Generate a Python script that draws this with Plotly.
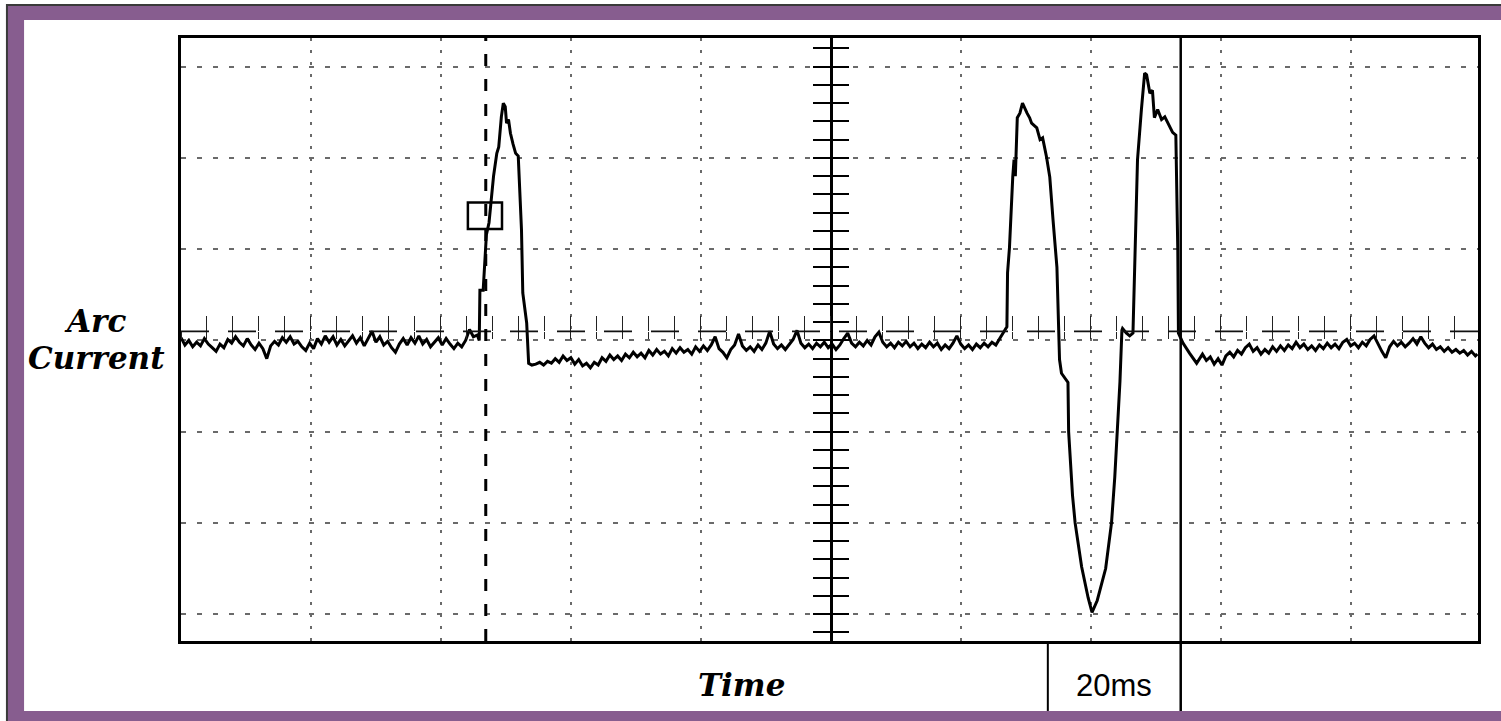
import plotly.graph_objects as go

# ---- trace readings: time in ms (1 division = 20 ms), current in divisions ----
seg_a_t = [0.0, 0.6, 1.2, 1.8, 2.4, 3.0, 3.6, 4.2, 4.8, 5.4,
           6.0, 6.6, 7.2, 7.8, 8.4, 9.0, 9.6, 10.2, 10.8, 11.4,
           12.0, 12.6, 13.2, 13.8, 14.4, 15.0, 15.6, 16.2, 16.8, 17.4,
           18.0, 18.6, 19.2, 19.8, 20.4, 21.0, 21.6, 22.2, 22.8, 23.4,
           24.0, 24.6, 25.2, 25.8, 26.4, 27.0, 27.6, 28.2, 28.8, 29.4,
           30.0, 30.6, 31.2, 31.8, 32.4, 33.0, 33.6, 34.2, 34.8, 35.4,
           36.0, 36.6, 37.2, 37.8, 38.4, 39.0, 39.6, 40.2, 40.8, 41.4,
           42.0, 42.6, 43.2, 43.8, 44.4, 45.0, 45.6]
seg_a_v = [0.03, -0.05, 0.00, -0.07, -0.02, -0.06, 0.02, -0.04, -0.08, -0.12,
           -0.04, -0.08, 0.01, -0.03, 0.04, -0.02, -0.06, 0.02, -0.05, -0.10,
           -0.03, -0.09, -0.20, -0.06, -0.01, -0.05, 0.03, -0.02, 0.04, -0.04,
           -0.01, -0.07, -0.11, -0.03, -0.09, 0.02, -0.04, 0.05, -0.02, 0.04,
           -0.05, 0.01, -0.06, -0.01, 0.05, -0.03, 0.03, -0.06, 0.02, 0.10,
           -0.02, 0.04, -0.05, -0.01, -0.08, -0.13, -0.04, 0.02, -0.05, 0.03,
           -0.03, 0.05, -0.04, 0.01, -0.07, -0.02, 0.03, -0.05, 0.02, -0.04,
           -0.09, -0.03, -0.07, 0.00, 0.12, 0.04, 0.06]

pulse1_t = [45.9, 46.0, 46.5, 47.0, 47.4, 47.7, 48.1, 48.6, 48.9, 49.3,
            49.6, 49.9, 50.1, 50.4, 50.7, 51.1, 51.5, 51.9, 52.4, 52.6,
            53.2, 53.5, 54.0]
pulse1_v = [0.00, 0.55, 0.55, 1.16, 1.29, 1.51, 1.80, 2.05, 2.12, 2.45,
            2.60, 2.56, 2.38, 2.42, 2.27, 2.15, 2.05, 2.02, 1.21, 0.52,
            0.19, -0.25, -0.27]

seg_b_t = [54.6, 55.2, 55.8, 56.4, 57.0, 57.6, 58.2, 58.8, 59.4, 60.0,
           60.6, 61.2, 61.8, 62.4, 63.0, 63.6, 64.2, 64.8, 65.4, 66.0,
           66.6, 67.2, 67.8, 68.4, 69.0, 69.6, 70.2, 70.8, 71.4, 72.0,
           72.6, 73.2, 73.8, 74.4, 75.0, 75.6, 76.2, 76.8, 77.4, 78.0,
           78.6, 79.2, 79.8, 80.4, 81.0, 81.6, 82.2, 82.8, 83.4, 84.0,
           84.6, 85.2, 85.8, 86.4, 87.0, 87.6, 88.2, 88.8, 89.4, 90.0,
           90.6, 91.2, 91.8, 92.4, 93.0, 93.6, 94.2, 94.8, 95.4, 96.0,
           96.6, 97.2, 97.8, 98.4, 99.0, 99.6, 100.2, 100.8, 101.4, 102.0,
           102.6, 103.2, 103.8, 104.4, 105.0, 105.6, 106.2, 106.8, 107.4, 108.0,
           108.6, 109.2, 109.8, 110.4, 111.0, 111.6, 112.2, 112.8, 113.4, 114.0,
           114.6, 115.2, 115.8, 116.4, 117.0, 117.6, 118.2, 118.8, 119.4, 120.0,
           120.6, 121.2, 121.8, 122.4, 123.0, 123.6, 124.2, 124.8, 125.4, 126.0]
seg_b_v = [-0.26, -0.24, -0.27, -0.23, -0.25, -0.20, -0.24, -0.17, -0.22, -0.19,
           -0.26, -0.21, -0.28, -0.25, -0.30, -0.24, -0.27, -0.19, -0.23, -0.16,
           -0.21, -0.17, -0.22, -0.15, -0.19, -0.13, -0.18, -0.14, -0.19, -0.11,
           -0.16, -0.10, -0.15, -0.12, -0.17, -0.09, -0.14, -0.08, -0.13, -0.10,
           -0.15, -0.07, -0.12, -0.06, -0.11, -0.05, 0.04, -0.09, -0.13, -0.19,
           -0.10, -0.05, 0.07, -0.06, -0.11, -0.07, -0.12, -0.05, -0.10, -0.03,
           0.10, -0.04, -0.09, -0.05, -0.10, -0.04, 0.01, 0.11, -0.03, -0.08,
           -0.04, -0.09, -0.03, -0.07, -0.02, -0.08, -0.04, -0.10, -0.05, 0.02,
           0.08, -0.03, -0.07, -0.02, -0.06, 0.00, -0.05, 0.04, 0.09, -0.02,
           -0.07, -0.03, -0.08, -0.02, -0.06, -0.01, -0.07, -0.03, -0.09, -0.04,
           -0.08, -0.02, -0.07, -0.03, -0.10, -0.05, -0.09, -0.03, 0.05, -0.04,
           -0.09, -0.05, -0.10, -0.04, -0.08, -0.03, -0.07, -0.02, -0.05, 0.02]

pulse2_t = [126.5, 127.1, 127.2, 127.5, 128.0, 128.2, 128.4, 128.7, 129.1, 129.5,
            130.2, 130.6, 130.9, 131.3, 131.7, 132.2, 132.6, 133.2, 133.7, 134.2,
            134.8, 135.2, 135.5, 136.5, 136.6, 137.2, 137.6, 138.6, 139.6, 140.2,
            141.0, 142.3, 143.2, 143.7, 144.1, 144.5, 144.8, 144.9, 145.5, 146.0,
            146.5, 146.8, 147.2, 147.8, 148.3, 148.6, 149.1, 149.5, 149.8, 150.3,
            150.9, 151.4, 152.2, 152.6, 153.1, 153.4, 153.5, 154.2, 155.2, 156.3]
pulse2_v = [0.08, 0.15, 0.74, 1.02, 1.79, 1.98, 1.80, 2.44, 2.49, 2.60,
            2.49, 2.44, 2.38, 2.36, 2.33, 2.20, 2.22, 2.01, 1.79, 1.32,
            0.80, -0.21, -0.36, -0.46, -1.00, -1.70, -2.00, -2.48, -2.82, -2.98,
            -2.85, -2.50, -2.00, -1.50, -1.00, -0.45, 0.11, 0.13, 0.08, 0.05,
            0.08, 0.88, 1.98, 2.53, 2.93, 2.91, 2.71, 2.74, 2.44, 2.53,
            2.42, 2.45, 2.34, 2.28, 2.25, 0.99, 0.08, -0.03, -0.14, -0.25]

seg_c_t = [157.2, 157.8, 158.4, 159.0, 159.6, 160.2, 160.8, 161.4, 162.0, 162.6,
           163.2, 163.8, 164.4, 165.0, 165.6, 166.2, 166.8, 167.4, 168.0, 168.6,
           169.2, 169.8, 170.4, 171.0, 171.6, 172.2, 172.8, 173.4, 174.0, 174.6,
           175.2, 175.8, 176.4, 177.0, 177.6, 178.2, 178.8, 179.4, 180.0, 180.6,
           181.2, 181.8, 182.4, 183.0, 183.6, 184.2, 184.8, 185.4, 186.0, 186.6,
           187.2, 187.8, 188.4, 189.0, 189.6, 190.2, 190.8, 191.4, 192.0, 192.6,
           193.2, 193.8, 194.4, 195.0, 195.6, 196.2, 196.8, 197.4, 198.0, 198.6,
           199.2, 199.5]
seg_c_v = [-0.15, -0.22, -0.18, -0.26, -0.20, -0.27, -0.17, -0.13, -0.18, -0.11,
           -0.15, -0.08, -0.04, -0.12, -0.08, -0.15, -0.10, -0.14, -0.07, -0.12,
           -0.06, -0.11, -0.05, -0.09, -0.02, -0.08, -0.04, -0.10, -0.06, -0.11,
           -0.05, -0.09, -0.03, -0.08, -0.04, -0.09, -0.02, 0.01, -0.06, -0.03,
           -0.08, -0.02, -0.06, 0.01, 0.05, -0.04, -0.12, -0.19, -0.07, -0.01,
           -0.06, -0.02, -0.07, -0.03, 0.02, -0.04, 0.04, -0.03, -0.08, -0.04,
           -0.10, -0.07, -0.12, -0.08, -0.13, -0.10, -0.14, -0.11, -0.16, -0.12,
           -0.17, -0.15]

# markers drawn on the scope picture
trigger_t = 46.9          # dashed vertical cursor
box_t = [44.15, 49.4]     # little square on the first pulse
box_v = [1.22, 1.51]
cursor_a_t = 133.4        # 20 ms bracket
cursor_b_t = 153.85
center_t = 100.0

X_RANGE = [0, 199.6]
Y_RANGE = [-3.294, 3.314]
PURPLE = '#875d8f'
GRID = '#6a6a6a'

t = seg_a_t + pulse1_t + seg_b_t + pulse2_t + seg_c_t
v = seg_a_v + pulse1_v + seg_b_v + pulse2_v + seg_c_v

fig = go.Figure()
fig.add_trace(go.Scatter(x=t, y=v, mode='lines', line=dict(color='black', width=3),
                         hoverinfo='skip', showlegend=False))

# placeholder traces so the graticule axes get drawn
for xa, ya in [('x', 'y2'), ('x', 'y3'), ('x2', 'y'), ('x3', 'y')]:
    fig.add_trace(go.Scatter(x=[0], y=[0], xaxis=xa, yaxis=ya, mode='lines',
                             hoverinfo='skip', showlegend=False))

center_pos = (center_t - X_RANGE[0]) / (X_RANGE[1] - X_RANGE[0])
cross_pos = (0.1 - Y_RANGE[0]) / (Y_RANGE[1] - Y_RANGE[0])

frame = dict(showline=True, mirror=True, linecolor='black', linewidth=3,
             showticklabels=False, ticks='', zeroline=False, fixedrange=True)

fig.update_layout(
    width=1501, height=721,
    margin=dict(l=181, r=23, t=38, b=80),
    paper_bgcolor='white', plot_bgcolor='rgba(0,0,0,0)',
    showlegend=False,
    xaxis=dict(range=X_RANGE, showgrid=True, tick0=0, dtick=20, gridcolor=GRID,
               gridwidth=1.6, griddash='3px,9px', **frame),
    yaxis=dict(range=Y_RANGE, showgrid=True, tick0=0, dtick=1, gridcolor=GRID,
               gridwidth=1.6, griddash='5px,11px', **frame),
    yaxis2=dict(range=Y_RANGE, overlaying='y', anchor='free', position=center_pos,
                showline=True, linecolor='black', linewidth=3, showgrid=False,
                zeroline=False, showticklabels=False, ticks='outside', ticklen=17,
                tickwidth=1.5, tickcolor='black', tick0=0, dtick=0.2, fixedrange=True),
    yaxis3=dict(range=Y_RANGE, overlaying='y', anchor='free', position=center_pos,
                showline=False, showgrid=False, zeroline=False, showticklabels=False,
                ticks='inside', ticklen=17, tickwidth=1.5, tickcolor='black',
                tick0=0, dtick=0.2, fixedrange=True),
    xaxis2=dict(range=X_RANGE, overlaying='x', anchor='free', position=cross_pos,
                showline=False, showgrid=False, zeroline=False, showticklabels=False,
                ticks='outside', ticklen=7, tickwidth=1.3, tickcolor='#222',
                tick0=0, dtick=4, fixedrange=True),
    xaxis3=dict(range=X_RANGE, overlaying='x', anchor='free', position=cross_pos,
                showline=False, showgrid=False, zeroline=False, showticklabels=False,
                ticks='inside', ticklen=15, tickwidth=1.3, tickcolor='#222',
                tick0=0, dtick=4, fixedrange=True),
)

# purple border of the picture
fig.add_shape(type='rect', xref='paper', yref='paper', layer='below',
              x0=-0.1342, x1=1.03, y0=-0.16, y1=1.0547,
              fillcolor=PURPLE, line=dict(color='#3a3a3a', width=2))
fig.add_shape(type='rect', xref='paper', yref='paper', layer='below',
              x0=-0.121, x1=1.03, y0=-0.1161, y1=1.0299,
              fillcolor='white', line=dict(width=0))

# center dashed line with crosses
fig.add_shape(type='line', xref='x', yref='y', x0=X_RANGE[0], x1=X_RANGE[1], y0=0.1, y1=0.1,
              line=dict(color='#111', width=1.8, dash='28px,19px'))
# trigger cursor
fig.add_shape(type='line', xref='x', yref='paper', x0=trigger_t, x1=trigger_t, y0=0, y1=1,
              line=dict(color='black', width=3, dash='12px,13px'))
# small square
fig.add_shape(type='rect', xref='x', yref='y', x0=box_t[0], x1=box_t[1], y0=box_v[0], y1=box_v[1],
              line=dict(color='black', width=2.5))
# 20 ms bracket
fig.add_shape(type='line', xref='x', yref='paper', x0=cursor_b_t, x1=cursor_b_t, y0=-0.116, y1=1,
              line=dict(color='black', width=2.5))
fig.add_shape(type='line', xref='x', yref='paper', x0=cursor_a_t, x1=cursor_a_t, y0=-0.116, y1=0,
              line=dict(color='black', width=2))

label_font = dict(family='DejaVu Serif', size=31, color='black', weight='bold', style='italic')
labels = [('Arc', -0.0663, 0.5307), ('Current', -0.0648, 0.469), ('Time', 0.4325, -0.073)]
for text, x, y in labels:
    fig.add_annotation(text=text, xref='paper', yref='paper', x=x, y=y,
                       xanchor='center', yanchor='middle', showarrow=False, font=label_font)
fig.add_annotation(text='20ms', xref='paper', yref='paper', x=0.7194, y=-0.0746,
                   xanchor='center', yanchor='middle', showarrow=False,
                   font=dict(family='Liberation Sans', size=31, color='black'))

fig.write_html('out.html', config={'displayModeBar': False},
               post_script="document.body.style.margin='0';")
